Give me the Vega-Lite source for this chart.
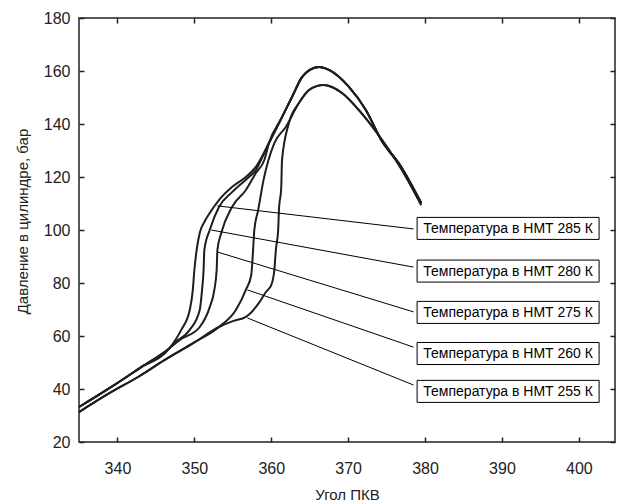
{
  "$schema": "https://vega.github.io/schema/vega-lite/v6.json",
  "width": 536,
  "height": 424,
  "autosize": {"type": "none"},
  "padding": {"left": 79, "top": 18, "right": 3, "bottom": 62},
  "background": "white",
  "config": {
    "view": {"stroke": "#222", "strokeWidth": 1.5},
    "font": "Liberation Sans, Arial, sans-serif"
  },
  "datasets": {
    "curves": [
      {"s": "285", "i": 1, "a": 335.0, "p": 33.2}, {"s": "285", "i": 2, "a": 339.0, "p": 40.4}, {"s": "285", "i": 3, "a": 342.9, "p": 47.9}, {"s": "285", "i": 4, "a": 346.8, "p": 55.5},
      {"s": "285", "i": 5, "a": 348.3, "p": 62.3}, {"s": "285", "i": 6, "a": 349.4, "p": 69.8}, {"s": "285", "i": 7, "a": 349.8, "p": 77.4}, {"s": "285", "i": 8, "a": 350.0, "p": 84.9},
      {"s": "285", "i": 9, "a": 350.3, "p": 92.5}, {"s": "285", "i": 10, "a": 350.7, "p": 98.9}, {"s": "285", "i": 11, "a": 351.3, "p": 103.0}, {"s": "285", "i": 12, "a": 352.0, "p": 106.4},
      {"s": "285", "i": 13, "a": 353.2, "p": 111.3}, {"s": "285", "i": 14, "a": 354.9, "p": 116.2}, {"s": "285", "i": 15, "a": 356.7, "p": 120.0}, {"s": "285", "i": 16, "a": 358.0, "p": 123.8},
      {"s": "285", "i": 17, "a": 359.7, "p": 132.8}, {"s": "285", "i": 18, "a": 361.4, "p": 142.6}, {"s": "285", "i": 19, "a": 362.7, "p": 150.2}, {"s": "285", "i": 20, "a": 364.0, "p": 157.7},
      {"s": "285", "i": 21, "a": 365.0, "p": 160.4}, {"s": "285", "i": 22, "a": 366.2, "p": 161.5}, {"s": "285", "i": 23, "a": 367.5, "p": 160.4}, {"s": "285", "i": 24, "a": 370.1, "p": 154.0},
      {"s": "285", "i": 25, "a": 372.3, "p": 145.3}, {"s": "285", "i": 26, "a": 374.3, "p": 134.0}, {"s": "285", "i": 27, "a": 376.9, "p": 123.8}, {"s": "285", "i": 28, "a": 379.5, "p": 110.2},

      {"s": "280", "i": 1, "a": 335.0, "p": 33.2}, {"s": "280", "i": 2, "a": 339.0, "p": 40.4}, {"s": "280", "i": 3, "a": 342.9, "p": 47.9}, {"s": "280", "i": 4, "a": 346.8, "p": 55.5},
      {"s": "280", "i": 5, "a": 347.4, "p": 57.4}, {"s": "280", "i": 6, "a": 349.4, "p": 62.3}, {"s": "280", "i": 7, "a": 350.7, "p": 69.8}, {"s": "280", "i": 8, "a": 351.0, "p": 77.4},
      {"s": "280", "i": 9, "a": 351.2, "p": 84.9}, {"s": "280", "i": 10, "a": 351.3, "p": 92.5}, {"s": "280", "i": 11, "a": 352.0, "p": 100.0}, {"s": "280", "i": 12, "a": 353.2, "p": 108.7},
      {"s": "280", "i": 13, "a": 354.9, "p": 114.3}, {"s": "280", "i": 14, "a": 357.1, "p": 120.0}, {"s": "280", "i": 15, "a": 358.0, "p": 122.6}, {"s": "280", "i": 16, "a": 358.8, "p": 127.2},
      {"s": "280", "i": 17, "a": 359.7, "p": 132.8}, {"s": "280", "i": 18, "a": 361.4, "p": 142.6}, {"s": "280", "i": 19, "a": 362.7, "p": 150.2}, {"s": "280", "i": 20, "a": 364.0, "p": 157.7},
      {"s": "280", "i": 21, "a": 365.0, "p": 160.4}, {"s": "280", "i": 22, "a": 366.2, "p": 161.5}, {"s": "280", "i": 23, "a": 367.5, "p": 160.4}, {"s": "280", "i": 24, "a": 370.1, "p": 154.0},
      {"s": "280", "i": 25, "a": 372.3, "p": 145.3}, {"s": "280", "i": 26, "a": 374.3, "p": 134.0}, {"s": "280", "i": 27, "a": 376.9, "p": 123.8}, {"s": "280", "i": 28, "a": 379.5, "p": 110.2},

      {"s": "275", "i": 1, "a": 335.0, "p": 33.2}, {"s": "275", "i": 2, "a": 339.0, "p": 40.4}, {"s": "275", "i": 3, "a": 342.9, "p": 47.9}, {"s": "275", "i": 4, "a": 346.8, "p": 55.5},
      {"s": "275", "i": 5, "a": 348.1, "p": 58.5}, {"s": "275", "i": 6, "a": 350.7, "p": 63.4}, {"s": "275", "i": 7, "a": 352.0, "p": 70.9}, {"s": "275", "i": 8, "a": 352.6, "p": 77.4},
      {"s": "275", "i": 9, "a": 352.9, "p": 84.9}, {"s": "275", "i": 10, "a": 353.0, "p": 92.5}, {"s": "275", "i": 11, "a": 353.5, "p": 98.9}, {"s": "275", "i": 12, "a": 354.9, "p": 108.7},
      {"s": "275", "i": 13, "a": 356.7, "p": 115.1}, {"s": "275", "i": 14, "a": 358.0, "p": 121.5}, {"s": "275", "i": 15, "a": 359.1, "p": 126.4}, {"s": "275", "i": 16, "a": 359.7, "p": 132.8},
      {"s": "275", "i": 17, "a": 361.4, "p": 142.6}, {"s": "275", "i": 18, "a": 362.7, "p": 150.2}, {"s": "275", "i": 19, "a": 364.0, "p": 157.7}, {"s": "275", "i": 20, "a": 365.0, "p": 160.4},
      {"s": "275", "i": 21, "a": 366.2, "p": 161.5}, {"s": "275", "i": 22, "a": 367.5, "p": 160.4}, {"s": "275", "i": 23, "a": 370.1, "p": 154.0}, {"s": "275", "i": 24, "a": 372.3, "p": 145.3},
      {"s": "275", "i": 25, "a": 374.3, "p": 134.0}, {"s": "275", "i": 26, "a": 376.9, "p": 123.8}, {"s": "275", "i": 27, "a": 379.5, "p": 110.2},

      {"s": "260", "i": 1, "a": 335.0, "p": 31.3}, {"s": "260", "i": 2, "a": 339.0, "p": 38.5}, {"s": "260", "i": 3, "a": 342.9, "p": 44.9}, {"s": "260", "i": 4, "a": 346.1, "p": 50.9},
      {"s": "260", "i": 5, "a": 349.9, "p": 57.4}, {"s": "260", "i": 6, "a": 353.2, "p": 63.4}, {"s": "260", "i": 7, "a": 355.4, "p": 69.8}, {"s": "260", "i": 8, "a": 356.7, "p": 77.4},
      {"s": "260", "i": 9, "a": 357.4, "p": 83.0}, {"s": "260", "i": 10, "a": 357.6, "p": 90.6}, {"s": "260", "i": 11, "a": 357.8, "p": 100.0}, {"s": "260", "i": 12, "a": 358.3, "p": 107.5},
      {"s": "260", "i": 13, "a": 359.0, "p": 118.9}, {"s": "260", "i": 14, "a": 360.4, "p": 132.8}, {"s": "260", "i": 15, "a": 361.9, "p": 138.9}, {"s": "260", "i": 16, "a": 363.6, "p": 147.9},
      {"s": "260", "i": 17, "a": 364.9, "p": 152.8}, {"s": "260", "i": 18, "a": 365.9, "p": 154.3}, {"s": "260", "i": 19, "a": 366.8, "p": 154.7}, {"s": "260", "i": 20, "a": 369.2, "p": 151.7},
      {"s": "260", "i": 21, "a": 371.7, "p": 144.2}, {"s": "260", "i": 22, "a": 374.6, "p": 133.2}, {"s": "260", "i": 23, "a": 377.0, "p": 122.6}, {"s": "260", "i": 24, "a": 379.5, "p": 109.4},

      {"s": "255", "i": 1, "a": 335.0, "p": 31.3}, {"s": "255", "i": 2, "a": 339.0, "p": 38.5}, {"s": "255", "i": 3, "a": 342.9, "p": 44.9}, {"s": "255", "i": 4, "a": 346.1, "p": 50.9},
      {"s": "255", "i": 5, "a": 349.9, "p": 57.4}, {"s": "255", "i": 6, "a": 353.2, "p": 63.4}, {"s": "255", "i": 7, "a": 355.0, "p": 65.6}, {"s": "255", "i": 8, "a": 356.7, "p": 67.2},
      {"s": "255", "i": 9, "a": 358.4, "p": 72.5}, {"s": "255", "i": 10, "a": 359.3, "p": 76.6}, {"s": "255", "i": 11, "a": 360.0, "p": 79.2}, {"s": "255", "i": 12, "a": 360.4, "p": 84.9},
      {"s": "255", "i": 13, "a": 360.6, "p": 92.5}, {"s": "255", "i": 14, "a": 360.9, "p": 100.0}, {"s": "255", "i": 15, "a": 361.0, "p": 107.5}, {"s": "255", "i": 16, "a": 361.3, "p": 116.2},
      {"s": "255", "i": 17, "a": 361.4, "p": 126.4}, {"s": "255", "i": 18, "a": 362.3, "p": 140.4}, {"s": "255", "i": 19, "a": 363.6, "p": 147.9}, {"s": "255", "i": 20, "a": 364.9, "p": 152.8},
      {"s": "255", "i": 21, "a": 365.9, "p": 154.3}, {"s": "255", "i": 22, "a": 366.8, "p": 154.7}, {"s": "255", "i": 23, "a": 369.2, "p": 151.7}, {"s": "255", "i": 24, "a": 371.7, "p": 144.2},
      {"s": "255", "i": 25, "a": 374.6, "p": 133.2}, {"s": "255", "i": 26, "a": 377.0, "p": 122.6}, {"s": "255", "i": 27, "a": 379.5, "p": 109.4}
    ],
    "notes": [
      {"label": "Температура в НМТ 285 К", "a1": 353.0, "p1": 109.1, "a2": 378.5, "p2": 100.4, "la": 390.8, "lp": 100.6},
      {"label": "Температура в НМТ 280 К", "a1": 352.2, "p1": 100.0, "a2": 378.5, "p2": 86.0, "la": 390.8, "lp": 84.5},
      {"label": "Температура в НМТ 275 К", "a1": 353.0, "p1": 91.7, "a2": 378.5, "p2": 69.1, "la": 390.8, "lp": 68.9},
      {"label": "Температура в НМТ 260 К", "a1": 356.9, "p1": 77.4, "a2": 378.5, "p2": 55.8, "la": 390.8, "lp": 53.4},
      {"label": "Температура в НМТ 255 К", "a1": 356.9, "p1": 66.8, "a2": 378.5, "p2": 41.5, "la": 390.8, "lp": 39.1}
    ]
  },
  "layer": [
    {
      "data": {"name": "curves"},
      "mark": {"type": "line", "color": "#1e1e1e", "strokeWidth": 2, "interpolate": "monotone"},
      "encoding": {
        "x": {
          "field": "a", "type": "quantitative",
          "scale": {"domain": [335, 404.7], "nice": false, "zero": false},
          "axis": {"values": [340, 350, 360, 370, 380, 390, 400], "title": "Угол ПКВ",
            "labelFont": "Liberation Sans, Arial, sans-serif", "titleFont": "Liberation Sans, Arial, sans-serif",
            "labelFontSize": 16, "titleFontSize": 15, "titleFontWeight": "normal", "labelColor": "#222", "titleColor": "#222",
            "ticks": false, "domain": false, "labelPadding": 18, "titleY": 57, "titleBaseline": "alphabetic",
            "grid": true, "gridColor": "#222", "gridWidth": 1.5, "gridOpacity": 1, "gridDash": [5, 414], "zindex": 1}
        },
        "y": {
          "field": "p", "type": "quantitative",
          "scale": {"domain": [20, 180], "nice": false, "zero": false},
          "axis": {"values": [20, 40, 60, 80, 100, 120, 140, 160, 180], "title": "Давление в цилиндре, бар",
            "labelFont": "Liberation Sans, Arial, sans-serif", "titleFont": "Liberation Sans, Arial, sans-serif",
            "labelFontSize": 16, "titleFontSize": 15, "titleFontWeight": "normal", "labelColor": "#222", "titleColor": "#222",
            "ticks": false, "domain": false, "labelPadding": 9,
            "titleX": -52, "titleY": 203, "titleBaseline": "alphabetic", "titleAngle": -90, "titleAlign": "center",
            "grid": true, "gridColor": "#222", "gridWidth": 1.5, "gridOpacity": 1, "gridDash": [5, 526], "zindex": 1}
        },
        "detail": {"field": "s"},
        "order": {"field": "i"}
      }
    },
    {
      "data": {"name": "notes"},
      "mark": {"type": "rule", "color": "black", "strokeWidth": 1},
      "encoding": {
        "x": {"field": "a1", "type": "quantitative"},
        "y": {"field": "p1", "type": "quantitative"},
        "x2": {"field": "a2"},
        "y2": {"field": "p2"}
      }
    },
    {
      "data": {"name": "notes"},
      "mark": {"type": "point", "shape": "M-1,-0.121L1,-0.121L1,0.121L-1,0.121Z", "size": 33124, "fill": "white", "stroke": "black", "strokeWidth": 1, "opacity": 1, "filled": true},
      "encoding": {
        "x": {"field": "la", "type": "quantitative"},
        "y": {"field": "lp", "type": "quantitative"}
      }
    },
    {
      "data": {"name": "notes"},
      "mark": {"type": "text", "fontSize": 14, "font": "Liberation Sans, Arial, sans-serif", "align": "center", "baseline": "middle", "color": "black", "dy": 1},
      "encoding": {
        "x": {"field": "la", "type": "quantitative"},
        "y": {"field": "lp", "type": "quantitative"},
        "text": {"field": "label"}
      }
    }
  ]
}
